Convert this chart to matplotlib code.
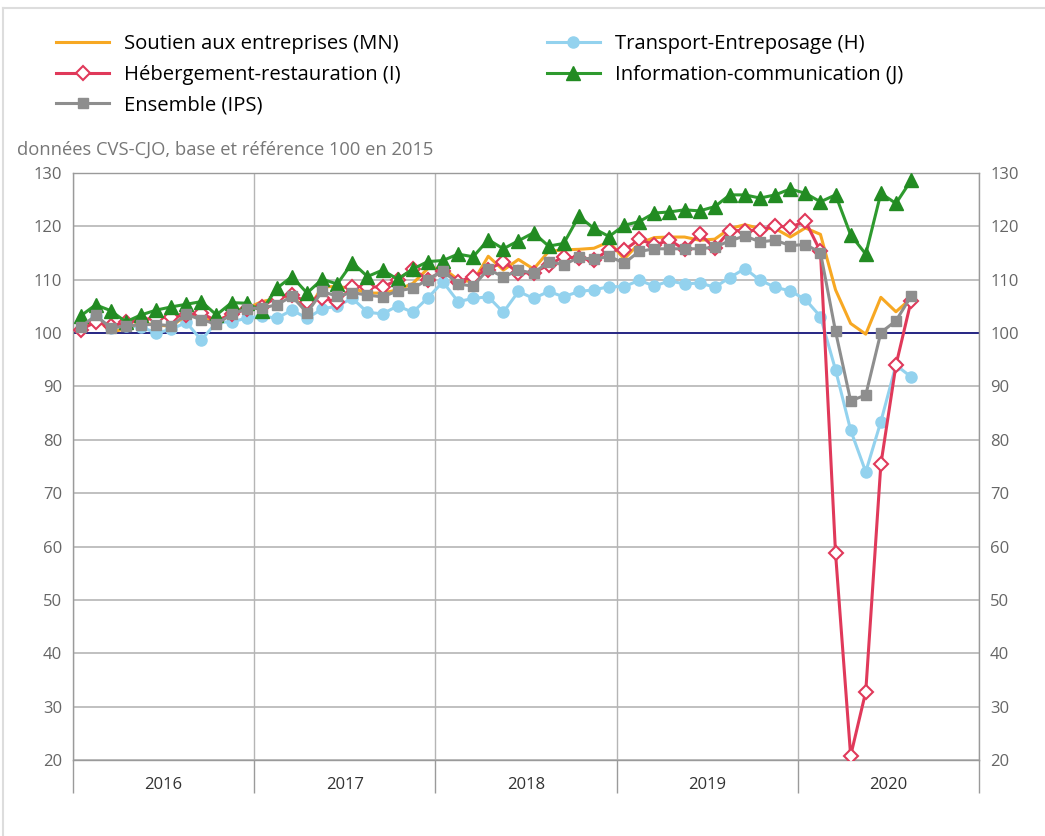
import matplotlib.pyplot as plt
import numpy as np
from matplotlib.lines import Line2D

plt.rcParams["font.family"] = ["Open Sans", "DejaVu Sans"]

years = ["2016", "2017", "2018", "2019", "2020"]

# monthly values, Jan 2016 -> Aug 2020
soutien = [101, 103, 100.2, 100.8, 102, 101.5, 101.3, 103.3, 103, 102, 103.8, 104.6,
           105.9, 106.5, 107.1, 104, 108.7, 108.7, 108.4, 107.5, 107.5, 108.1, 109.3, 112.1,
           112.2, 110, 109.6, 114.4, 111.8, 113.8, 112, 115.3, 115.6, 115.7, 115.9, 117.1,
           113.9, 116.8, 117.9, 118, 118, 117.4, 117.6, 119.6, 120.3, 119.6, 119.6, 118,
           119.7, 118.5, 108.1, 101.8, 99.8, 106.7, 104, 106.5]
transport = [101, 103.2, 101, 101.3, 101.2, 100, 100.7, 102, 98.7, 102, 102.1, 102.8,
             103.2, 102.8, 104.3, 102.8, 104.5, 105.1, 106.5, 103.9, 103.6, 105.1, 103.9, 106.6,
             109.6, 105.9, 106.5, 106.8, 103.9, 107.8, 106.5, 107.8, 106.8, 107.8, 108.1, 108.7,
             108.7, 109.9, 108.8, 109.8, 109.2, 109.4, 108.6, 110.4, 112.1, 109.9, 108.6, 107.9,
             106.3, 103.1, 93.1, 81.8, 74.0, 83.4, 94.0, 91.8]
hebergement = [100.6, 102.1, 101.3, 102, 102.5, 102.8, 103, 103.4, 103.7, 102.3, 103.5, 104.5,
               104.9, 106.8, 107.1, 105.9, 106.5, 105.9, 108.7, 108.7, 108.6, 110, 112, 110,
               111.7, 109.6, 110.6, 111.9, 113.4, 111.3, 111.3, 112.8, 114.3, 114, 113.7, 115.6,
               115.5, 117.6, 116.5, 117.4, 115.7, 118.6, 115.9, 119.2, 119.2, 119.3, 120.1, 119.8,
               121, 115.3, 58.7, 20.8, 32.8, 75.4, 94, 106]
information = [103.2, 105.3, 104.2, 102.1, 103.4, 104.3, 104.9, 105.4, 105.9, 103.4, 105.7, 105.6,
               104.2, 108.4, 110.6, 107.5, 110.1, 109.2, 113.2, 110.6, 111.8, 110.1, 112, 113.4,
               113.6, 114.8, 114.3, 117.5, 115.8, 117.3, 118.8, 116.3, 116.8, 121.9, 119.6, 118.1,
               120.2, 120.9, 122.5, 122.7, 123.1, 122.9, 123.7, 125.9, 125.9, 125.3, 125.9, 127,
               126.2, 124.6, 125.9, 118.4, 114.8, 126.2, 124.3, 128.6]
ensemble = [101.1, 103.3, 101, 101.3, 101.6, 101.6, 101.4, 103.5, 102.5, 101.7, 103.5, 104.6,
            104.7, 105.3, 106.9, 103.8, 107.8, 106.9, 107.6, 107.1, 106.8, 107.9, 108.4, 110,
            111.7, 109.2, 108.8, 112, 110.5, 111.8, 111.2, 113.4, 112.8, 114.2, 113.8, 114.4,
            113.1, 115.3, 115.8, 115.8, 115.8, 115.8, 116.1, 117.3, 118.2, 117.1, 117.4, 116.4,
            116.6, 115.1, 100.3, 87.3, 88.4, 100.1, 102.3, 106.9]

x = np.arange(len(ensemble)) + 0.5

fig = plt.figure(figsize=(10.45, 8.36), dpi=100)
ax = fig.add_axes([73 / 1045, 1 - 760 / 836, 906 / 1045, 587 / 836])

lw = 2.2
l_sout, = ax.plot(x, soutien, color="#F7A823", lw=lw, zorder=3,
                  label="Soutien aux entreprises (MN)")
l_trans, = ax.plot(x, transport, color="#93D2EE", lw=lw, marker="o", ms=8,
                   zorder=2, label="Transport-Entreposage (H)")
l_heb, = ax.plot(x, hebergement, color="#E0395A", lw=lw, marker="D", ms=7,
                 mfc="white", mec="#E0395A", mew=1.5, zorder=4,
                 label="Hébergement-restauration (I)")
l_info, = ax.plot(x, information, color="#2E9A2E", lw=lw, marker="^", ms=10,
                  mfc="#228B22", mec="#228B22", zorder=5,
                  label="Information-communication (J)")
l_ens, = ax.plot(x, ensemble, color="#8E8E8E", lw=lw, marker="s", ms=6.5,
                 zorder=6, label="Ensemble (IPS)")

ax.set_ylim(20, 130)
ax.set_xlim(0, 12 * len(years))
ax.set_yticks(np.arange(20, 131, 10))
ax.grid(axis="y", color="#b5b5b5", lw=1.2, zorder=0)
ax.axhline(100, color="#1a1a80", lw=1.3, zorder=1.8)

ax.set_xticks(np.arange(len(years)) * 12 + 6)
ax.set_xticklabels(years)
ax.set_xticks(np.arange(len(years) + 1) * 12, minor=True)
ax.grid(axis="x", which="minor", color="#b5b5b5", lw=1.0, zorder=0)
ax.tick_params(axis="x", which="major", length=0, pad=12, labelsize=12, labelcolor="#333333")
ax.tick_params(axis="x", which="minor", length=24, width=1.0, color="#9a9a9a", direction="out")
ax.tick_params(axis="y", length=0, labelsize=12, labelcolor="#666666",
               labelleft=True, labelright=True, pad=8)

for s in ax.spines.values():
    s.set_color("#9a9a9a")
    s.set_linewidth(1.0)

fig.text(17 / 1045, 1 - 150 / 836, "données CVS-CJO, base et référence 100 en 2015",
         fontsize=13.2, color="#777777", va="center")

handles = [l_sout, l_heb, l_ens, l_trans, l_info]
leg = fig.legend(handles=handles, ncol=2, loc="upper left",
                 bbox_to_anchor=(38 / 1045, 1 - 16 / 836), frameon=False,
                 fontsize=14.6, handlelength=2.6, columnspacing=7.2,
                 labelspacing=0.52, handletextpad=0.75)

# light frame around the picture
fig.add_artist(Line2D([3 / 1045, 3 / 1045], [0, 1 - 8 / 836], color="#dddddd", lw=1.5))
fig.add_artist(Line2D([3 / 1045, 1], [1 - 8 / 836, 1 - 8 / 836], color="#dddddd", lw=1.5))

fig.savefig("out.png", dpi=100)
